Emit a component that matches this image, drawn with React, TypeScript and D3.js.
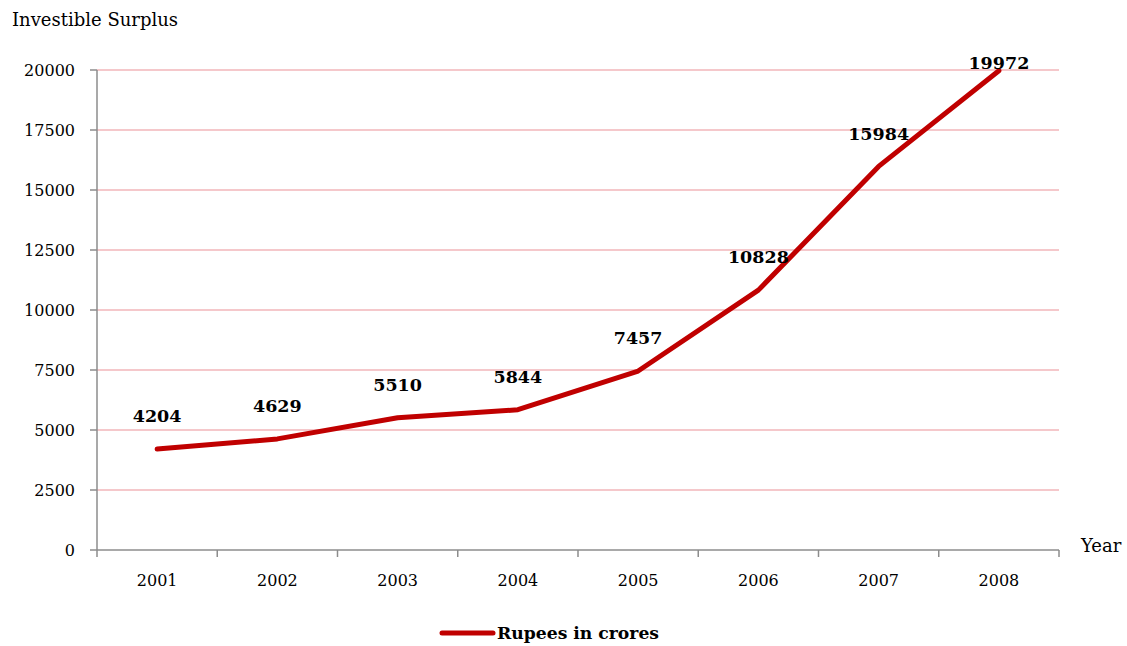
import React from "react";
import * as d3 from "d3";

const years = ["2001", "2002", "2003", "2004", "2005", "2006", "2007", "2008"];
const values = [4204, 4629, 5510, 5844, 7457, 10828, 15984, 19972];
const yTicks = [0, 2500, 5000, 7500, 10000, 12500, 15000, 17500, 20000];

const W = 1127;
const H = 646;
const left = 97;
const right = 1059;
const top = 70;
const bottom = 550;
const FONT = "'DejaVu Serif', 'Liberation Serif', serif";

export default function App() {
  const x = d3.scaleBand<string>().domain(years).range([left, right]).padding(0);
  const y = d3.scaleLinear().domain([0, 20000]).range([bottom, top]);
  const cx = (yr: string) => (x(yr) as number) + x.bandwidth() / 2;
  const line = d3
    .line<number>()
    .x((_, i) => cx(years[i]))
    .y((d) => y(d))
    .curve(d3.curveLinear);
  const tickPositions = years.map((yr) => x(yr) as number).concat([right]);

  return (
    <svg width={W} height={H} style={{ position: "absolute", left: 0, top: 0, background: "#fff" }}>
      <text x={12} y={20} dy="0.35em" fontFamily={FONT} fontSize={18} fill="#000">
        Investible Surplus
      </text>
      {yTicks.map((t) => (
        <g key={t}>
          {t > 0 && (
            <line x1={left} x2={right} y1={y(t)} y2={y(t)} stroke="#f2b6ba" strokeWidth={1.5} />
          )}
          <line x1={left - 7} x2={left} y1={y(t)} y2={y(t)} stroke="#8c8c8c" strokeWidth={1.5} />
          <text x={75} y={y(t)} dy="0.35em" textAnchor="end" fontFamily={FONT} fontSize={16} fill="#000">
            {t}
          </text>
        </g>
      ))}
      <line x1={left} x2={left} y1={top} y2={bottom} stroke="#8c8c8c" strokeWidth={1.5} />
      <line x1={left} x2={right} y1={bottom} y2={bottom} stroke="#8c8c8c" strokeWidth={1.5} />
      {tickPositions.map((p, i) => (
        <line key={i} x1={p} x2={p} y1={bottom} y2={bottom + 7} stroke="#8c8c8c" strokeWidth={1.5} />
      ))}
      {years.map((yr) => (
        <text key={yr} x={cx(yr)} y={580} dy="0.35em" textAnchor="middle" fontFamily={FONT} fontSize={16} fill="#000">
          {yr}
        </text>
      ))}
      <text x={1081} y={546} dy="0.35em" fontFamily={FONT} fontSize={18} fill="#000">
        Year
      </text>
      <path d={line(values) || ""} fill="none" stroke="#c00000" strokeWidth={5} strokeLinejoin="round" strokeLinecap="round" />
      {values.map((v, i) => (
        <text
          key={i}
          x={cx(years[i])}
          y={Math.max(y(v) - 33, 63)}
          dy="0.35em"
          textAnchor="middle"
          fontFamily={FONT}
          fontWeight="bold"
          fontSize={17.5}
          fill="#000"
        >
          {v}
        </text>
      ))}
      <line x1={442} x2={493} y1={633} y2={633} stroke="#c00000" strokeWidth={5} strokeLinecap="round" />
      <text x={497} y={633} dy="0.35em" fontFamily={FONT} fontWeight="bold" fontSize={17.2} fill="#000">
        Rupees in crores
      </text>
    </svg>
  );
}
